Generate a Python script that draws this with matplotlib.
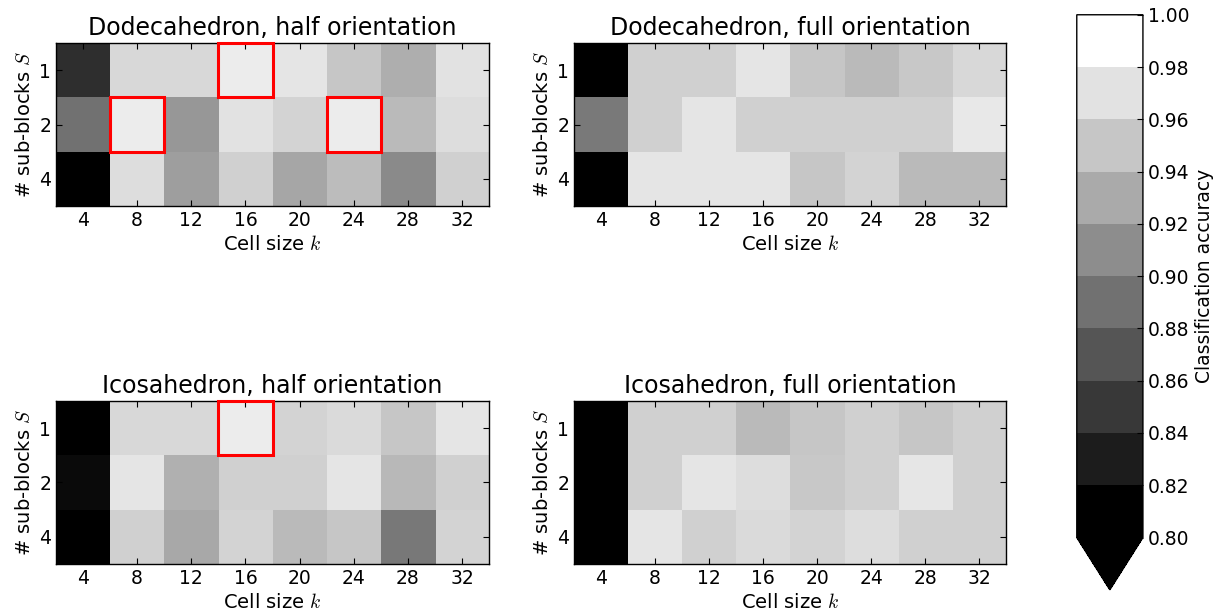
import numpy as np
import matplotlib
matplotlib.use("Agg")
import matplotlib.pyplot as plt
from matplotlib.colors import BoundaryNorm
from matplotlib.cm import ScalarMappable
from matplotlib.patches import Rectangle

plt.rcParams["mathtext.fontset"] = "cm"

# axes labels
cell_sizes = [4, 8, 12, 16, 20, 24, 28, 32]
sub_blocks = [1, 2, 4]

# classification accuracy, rows = sub-blocks S (1, 2, 4), cols = cell size k
dodeca_half = [
    [0.836, 0.969, 0.969, 0.985, 0.979, 0.955, 0.936, 0.977],
    [0.889, 0.985, 0.918, 0.977, 0.965, 0.985, 0.946, 0.973],
    [0.780, 0.973, 0.924, 0.963, 0.930, 0.947, 0.908, 0.963],
]
dodeca_full = [
    [0.780, 0.963, 0.963, 0.979, 0.955, 0.946, 0.957, 0.969],
    [0.896, 0.963, 0.979, 0.963, 0.963, 0.963, 0.963, 0.982],
    [0.780, 0.979, 0.979, 0.979, 0.955, 0.965, 0.946, 0.946],
]
icosa_half = [
    [0.780, 0.969, 0.969, 0.985, 0.965, 0.971, 0.955, 0.979],
    [0.808, 0.979, 0.938, 0.963, 0.963, 0.979, 0.944, 0.963],
    [0.780, 0.963, 0.932, 0.966, 0.946, 0.955, 0.894, 0.966],
]
icosa_full = [
    [0.780, 0.963, 0.963, 0.946, 0.955, 0.963, 0.955, 0.963],
    [0.780, 0.963, 0.979, 0.973, 0.957, 0.963, 0.980, 0.963],
    [0.780, 0.979, 0.963, 0.971, 0.966, 0.973, 0.963, 0.963],
]

titles = ["Dodecahedron, half orientation", "Dodecahedron, full orientation",
          "Icosahedron, half orientation", "Icosahedron, full orientation"]
panels = [dodeca_half, dodeca_full, icosa_half, icosa_full]

vmin, vmax = 0.80, 1.00
best = max(np.max(p) for p in panels)

fig = plt.figure(figsize=(12.25, 6.15), dpi=100)
positions = [
    [0.0457, 0.665, 0.3535, 0.265],
    [0.4686, 0.665, 0.3527, 0.265],
    [0.0457, 0.083, 0.3535, 0.265],
    [0.4686, 0.083, 0.3527, 0.265],
]

for pos, title, data in zip(positions, titles, panels):
    data = np.array(data)
    ax = fig.add_axes(pos)
    ax.imshow(data, cmap="gray", vmin=vmin, vmax=vmax, aspect="auto",
              interpolation="nearest")
    ax.set_xticks(range(len(cell_sizes)))
    ax.set_xticklabels(cell_sizes)
    ax.set_yticks(range(len(sub_blocks)))
    ax.set_yticklabels(sub_blocks)
    ax.tick_params(direction="in", top=True, right=True, length=4,
                   labelsize=13.5, width=0.8)
    for sp in ax.spines.values():
        sp.set_linewidth(1.0)
    ax.set_title(title, fontsize=17)
    ax.set_xlabel("Cell size $k$", fontsize=14)
    ax.set_ylabel("# sub-blocks $S$", fontsize=14)

    # highlight best-accuracy cells
    rows, cols = np.where(np.isclose(data, best))
    for r, c in zip(rows, cols):
        ax.add_patch(Rectangle((c - 0.5, r - 0.5), 1, 1, fill=False,
                               edgecolor="red", linewidth=2.2,
                               clip_on=False, zorder=5))

# discrete colorbar
bounds = np.linspace(vmin, vmax, 11)
sm = ScalarMappable(norm=BoundaryNorm(bounds, 256), cmap="gray")
cax = fig.add_axes([0.879, 0.041, 0.054, 0.935])
cbar = fig.colorbar(sm, cax=cax, extend="min", extendfrac=0.1, ticks=bounds)
cbar.ax.set_yticklabels([f"{b:.2f}" for b in bounds])
cbar.ax.tick_params(direction="in", labelsize=13.5, length=4)
cbar.outline.set_linewidth(1.0)
cbar.set_label("Classification accuracy", fontsize=13.5)

fig.savefig("out.png", dpi=100)
